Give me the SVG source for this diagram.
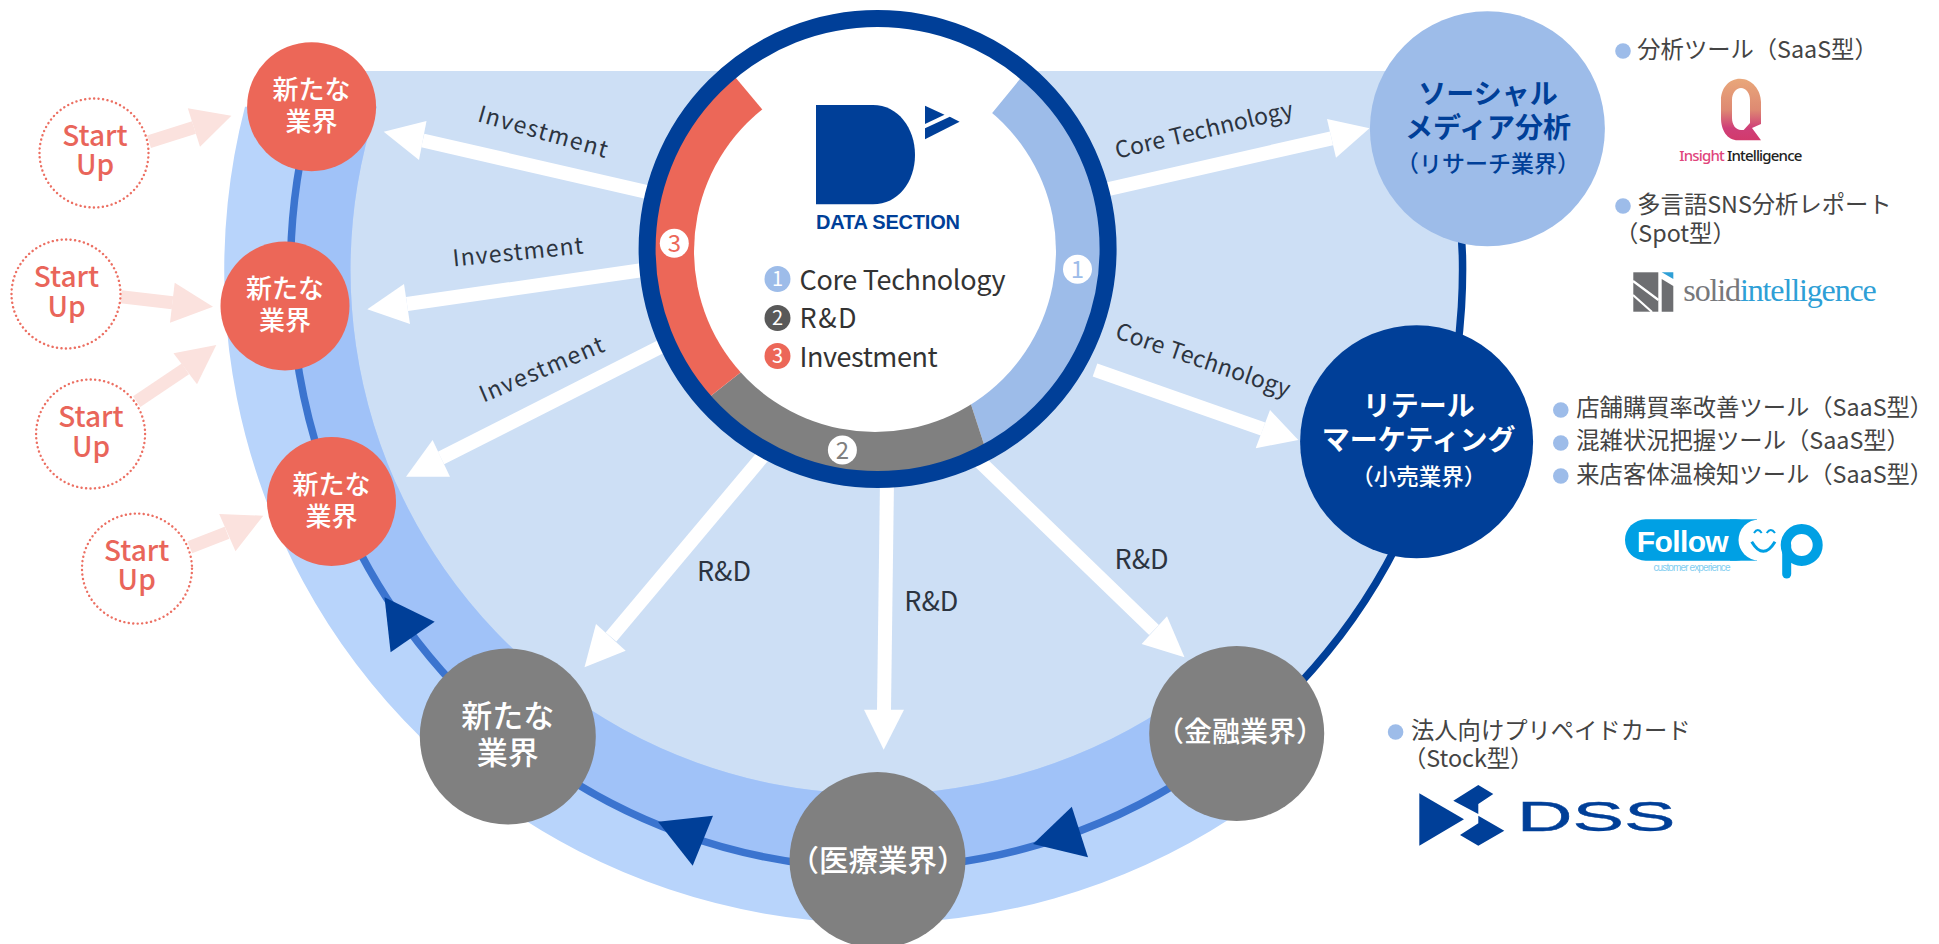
<svg xmlns="http://www.w3.org/2000/svg" width="1939" height="944" viewBox="0 0 1939 944">
<style>
text{font-family:"Noto Sans CJK JP","Noto Sans",sans-serif;text-anchor:middle}
.r{font-size:26px;fill:#fff;font-weight:500}
.g{font-size:31px;fill:#fff;font-weight:500}
.su{font-size:28px;fill:#e9655a;font-weight:500}
.sc{fill:#fff;stroke:#ec6f62;stroke-width:2.4;stroke-dasharray:.1 4.4;stroke-linecap:round}
.lab{font-size:23px;fill:#2c3440}
.rd{font-size:27px;fill:#2c3440}
.lg{font-size:27px;fill:#333;text-anchor:start}
.n{font-size:20px;fill:#fff}
.m{font-size:24px}
.t{font-size:23.3px;fill:#444;text-anchor:start}
.b{fill:#9dbce9}
.aw{stroke:#fff;stroke-width:14}
.ah{fill:#fff}
.pw{stroke:#fbe2de;stroke-width:13}
.ph{fill:#fbe2de}
</style>
<defs>
<clipPath id="segclip"><circle cx="877.6" cy="249" r="232"/></clipPath>
<linearGradient id="qg" x1="0" y1="0" x2="0" y2="1"><stop offset="0" stop-color="#e9a77a"/><stop offset=".5" stop-color="#de8a72"/><stop offset=".8" stop-color="#cf3f78"/><stop offset="1" stop-color="#d23a6c"/></linearGradient>
</defs>
<g id="background">
<path d="M323.9 71H1429A586 598 0 1 1 323.9 71Z" fill="#cddff5"/>
<path d="M245 106.7A652 653 0 0 0 1231.6 817.7L1163 709.5A526 524 0 0 1 376.7 106.7Z" fill="#b8d4fb"/>
<path d="M312.8 106.7A586 598 0 0 0 1195.7 771.5L1163 709.5A526 524 0 0 1 376.7 106.7Z" fill="#a0c2f8"/>
</g>
<g id="connectors" fill="none">
<path d="M312.8 106.7A586 598 0 0 0 1195.7 771.5" stroke="#3b74cf" stroke-width="7.5"/>
<path d="M1195.7 771.5A586 598 0 0 0 1446 128.8" stroke="#003f98" stroke-width="7.5"/>
<polygon points="384.5,597.3 434.7,621.7 390.6,652.3" fill="#003f98"/>
<polygon points="658,821.7 713,815.7 692.7,865.7" fill="#003f98"/>
<polygon points="1071.8,806.7 1088,857.3 1033,844" fill="#003f98"/>
<line class="aw" x1="660" y1="195" x2="422.8" y2="140.5"/><polygon class="ah" points="383.7,131.7 426.5,121 419,160"/>
<line class="aw" x1="650" y1="269" x2="407" y2="304"/><polygon class="ah" points="367.3,309.3 404,284 410,324"/>
<line class="aw" x1="670" y1="342" x2="441" y2="458"/><polygon class="ah" points="406,476.7 432.6,440 450,476.7"/>
<line class="aw" x1="768" y1="450" x2="611" y2="637"/><polygon class="ah" points="584.5,667.3 596,624 625.7,650.7"/>
<line class="aw" x1="887" y1="480" x2="884" y2="710"/><polygon class="ah" points="883.7,749.7 864,709.7 904,709.7"/>
<line class="aw" x1="975" y1="457" x2="1154" y2="630"/><polygon class="ah" points="1184.5,657.3 1167,616.3 1141.6,644"/>
<line class="aw" x1="1100" y1="191" x2="1331.5" y2="138.3"/><polygon class="ah" points="1369.5,128.3 1327,119 1336,157.7"/>
<line class="aw" x1="1095" y1="370" x2="1263" y2="429"/><polygon class="ah" points="1298.3,440 1270,410 1255.7,448.3"/>
<line class="pw" x1="149" y1="141.7" x2="194" y2="127.5"/><polygon class="ph" points="231.4,115.7 187.8,108.3 200,146.7"/>
<line class="pw" x1="121" y1="296.7" x2="172.5" y2="302.7"/><polygon class="ph" points="213,306.7 174.7,282.7 170,322.7"/>
<line class="pw" x1="136.7" y1="401.7" x2="185.4" y2="368.8"/><polygon class="ph" points="216.3,345 173.5,353.3 197,384.3"/>
<line class="pw" x1="189.8" y1="547.3" x2="227" y2="532.7"/><polygon class="ph" points="263.3,515.7 219.2,514 235.5,551.3"/>
</g>
<g id="connector-labels">
<text class="lab" textLength="134" transform="translate(543 131.7) rotate(16) translate(0 8)">Investment</text>
<text class="lab" textLength="131" transform="translate(518 252) rotate(-5.7) translate(0 8)">Investment</text>
<text class="lab" textLength="133" transform="translate(541.6 369.5) rotate(-23) translate(0 8)">Investment</text>
<text class="lab" textLength="182" transform="translate(1204 130) rotate(-13.3) translate(0 8)">Core Technology</text>
<text class="lab" textLength="183" transform="translate(1203 360) rotate(19) translate(0 8)">Core Technology</text>
<text class="rd" x="724" y="581">R&amp;D</text>
<text class="rd" x="931.4" y="610.5">R&amp;D</text>
<text class="rd" x="1141.6" y="568.5">R&amp;D</text>
</g>
<g id="hub">
<circle cx="877.6" cy="249" r="232" fill="#fff"/>
<g clip-path="url(#segclip)">
<polygon points="877.6,252.7 1038,57 1200,0 1200,475 994,475 917,239" fill="#9dbce9"/>
<polygon points="684,417 840,294 917,239 994,475 1000,520 684,520" fill="#808080"/>
<polygon points="715,53 840,202 840,294 684,417 600,417 600,53" fill="#ec6758"/>
</g>
<circle cx="875" cy="251" r="181" fill="#fff"/>
<circle cx="877.6" cy="249" r="230.5" fill="none" stroke="#003f98" stroke-width="17"/>
<circle cx="1077.5" cy="269.3" r="14.5" fill="#fff"/><text x="1077.5" y="277.8" class="n m" style="fill:#9dbce9">1</text>
<circle cx="842.4" cy="450" r="14.5" fill="#fff"/><text x="842.4" y="458.5" class="n m" style="fill:#808080">2</text>
<circle cx="674.3" cy="243.3" r="14.5" fill="#fff"/><text x="674.3" y="251.8" class="n m" style="fill:#ec6758">3</text>
<path d="M816 105H873C898 105 915 128 915 155C915 182 898 204.3 873 204.3H816Z" fill="#003f98"/>
<polygon points="925,105.7 925,124 944.5,114.7" fill="#003f98"/>
<polygon points="925,128.3 949.8,116.7 959.6,121.7 925,139.3" fill="#003f98"/>
<text x="888" y="229.3" textLength="144" style="font-family:'Liberation Sans',sans-serif;font-weight:700;font-size:20px;fill:#003f98">DATA SECTION</text>
<circle cx="777.5" cy="279" r="13" class="b"/><text x="777.5" y="286" class="n">1</text>
<circle cx="777.5" cy="318" r="13" fill="#595959"/><text x="777.5" y="325" class="n">2</text>
<circle cx="777.5" cy="356" r="13" fill="#ec6758"/><text x="777.5" y="363" class="n">3</text>
<text class="lg" x="799.6" y="289.5" textLength="206">Core Technology</text>
<text class="lg" x="799.6" y="328" textLength="57">R&amp;D</text>
<text class="lg" x="799.6" y="366.5" textLength="138">Investment</text>
</g>
<g id="node-new-1"><circle cx="311.6" cy="106.7" r="64.5" fill="#ec6758"/><text class="r" x="311.6" y="98.5">新たな</text><text class="r" x="311.6" y="130.5">業界</text></g>
<g id="node-new-2"><circle cx="285" cy="306" r="64.5" fill="#ec6758"/><text class="r" x="285" y="298">新たな</text><text class="r" x="285" y="330">業界</text></g>
<g id="node-new-3"><circle cx="331.5" cy="501.5" r="64.5" fill="#ec6758"/><text class="r" x="331.5" y="494">新たな</text><text class="r" x="331.5" y="525.5">業界</text></g>
<g id="node-new-4"><circle cx="507.8" cy="736.5" r="88" fill="#808080"/><text class="g" x="507.8" y="726.5">新たな</text><text class="g" x="507.8" y="763.5">業界</text></g>
<g id="node-medical"><circle cx="877.5" cy="860" r="88" fill="#808080"/><text class="g" x="878" y="870.5" style="font-size:29.5px">（医療業界）</text></g>
<g id="node-finance"><circle cx="1236.7" cy="733.5" r="87.5" fill="#808080"/><text class="g" x="1240" y="742" style="font-size:28px">（金融業界）</text></g>
<g id="node-social"><circle cx="1487.4" cy="128.8" r="117.5" fill="#9dbce9"/>
<text x="1488" y="103.5" style="font-size:28px;font-weight:700;fill:#003f98">ソーシャル</text>
<text x="1488" y="138" style="font-size:28px;font-weight:700;fill:#003f98">メディア分析</text>
<text x="1488" y="172" style="font-size:23px;font-weight:500;fill:#003f98">（リサーチ業界）</text></g>
<g id="node-retail"><circle cx="1416.6" cy="441.7" r="116.5" fill="#003f98"/>
<text x="1418.7" y="416" style="font-size:28px;font-weight:700;fill:#fff">リテール</text>
<text x="1418.7" y="450" style="font-size:28px;font-weight:700;fill:#fff">マーケティング</text>
<text x="1418.7" y="485" style="font-size:22.5px;font-weight:500;fill:#fff">（小売業界）</text></g>
<g id="startup-1"><circle class="sc" cx="94" cy="153" r="54.5"/><text class="su" x="95" y="145.7">Start</text><text class="su" x="95" y="175">Up</text></g>
<g id="startup-2"><circle class="sc" cx="66" cy="294" r="54.5"/><text class="su" x="66.5" y="287.3">Start</text><text class="su" x="66.5" y="316.7">Up</text></g>
<g id="startup-3"><circle class="sc" cx="90.6" cy="434" r="54.5"/><text class="su" x="91" y="426.7">Start</text><text class="su" x="91" y="456.7">Up</text></g>
<g id="startup-4"><circle class="sc" cx="137" cy="568.6" r="55"/><text class="su" x="136.7" y="560.7">Start</text><text class="su" x="136.7" y="590">Up</text></g>
<g id="notes">
<circle cx="1623" cy="51" r="7.8" class="b"/><text class="t" x="1637.3" y="57.5">分析ツール（SaaS型）</text>
<circle cx="1623" cy="206" r="7.8" class="b"/><text class="t" x="1637.3" y="212.5">多言語SNS分析レポート</text><text class="t" x="1615" y="241.5">（Spot型）</text>
<circle cx="1560.8" cy="410" r="7.8" class="b"/><text class="t" x="1576.3" y="415.5">店舗購買率改善ツール（SaaS型）</text>
<circle cx="1560.8" cy="443" r="7.8" class="b"/><text class="t" x="1576.3" y="449">混雑状況把握ツール（SaaS型）</text>
<circle cx="1560.8" cy="476" r="7.8" class="b"/><text class="t" x="1576.3" y="482.5">来店客体温検知ツール（SaaS型）</text>
<circle cx="1395.6" cy="732" r="7.8" class="b"/><text class="t" x="1411" y="739">法人向けプリペイドカード</text><text class="t" x="1403" y="767">（Stock型）</text>
</g>
<g id="logo-insight">
<path fill-rule="evenodd" fill="url(#qg)" d="M1740 78.7C1752 78.7 1761 90 1761 102V124L1752 128L1761 140.3H1738C1727 140.3 1721 130 1721 118V100C1721 88 1729 78.7 1740 78.7ZM1741 88C1736 88 1732 93 1732 100V118C1732 125 1736 130 1741 130H1743.7L1750 123V100C1750 93 1746 88 1741 88Z"/>
<text x="1679.3" y="161" textLength="123" style="text-anchor:start;font-family:'Noto Sans',sans-serif;font-size:15px;font-weight:500;fill:#222"><tspan fill="#e0457b">Insight</tspan> Intelligence</text>
</g>
<g id="logo-solid">
<rect x="1633.3" y="272.3" width="25" height="39.4" fill="#6d6e71"/>
<path d="M1633 281L1658.5 300M1633 295L1652 312" stroke="#fff" stroke-width="2.2"/>
<polygon points="1661.7,279 1673.3,286 1673.3,311.7 1661.7,311.7" fill="#6d6e71"/>
<polygon points="1661.7,272.3 1673.3,272.3 1673.3,279" fill="#2e9fd6"/>
<text x="1683.3" y="301" textLength="193.5" style="text-anchor:start;font-family:'Liberation Serif',serif;font-size:32px;fill:#2e9fd6"><tspan fill="#77787b">solid</tspan>intelligence</text>
</g>
<g id="logo-followup">
<rect x="1625" y="519.3" width="131.7" height="41.4" rx="20.7" fill="#00a0e4"/>
<rect x="1730" y="519.3" width="27" height="41.4" fill="#00a0e4"/>
<circle cx="1759" cy="540" r="20.5" fill="#fff"/>
<text x="1636.7" y="551.7" textLength="92" style="text-anchor:start;font-family:'Liberation Sans',sans-serif;font-size:30px;font-weight:700;fill:#fff">Follow</text>
<path d="M1751.7 541.7Q1763.3 561 1775 541.7" fill="none" stroke="#00a0e4" stroke-width="3"/>
<path d="M1754 533Q1757.8 527 1761.7 533M1766.7 533Q1770.8 527 1775 533" fill="none" stroke="#00a0e4" stroke-width="2"/>
<circle cx="1801.7" cy="545" r="16" fill="none" stroke="#00a0e4" stroke-width="10"/>
<line x1="1786.7" y1="545" x2="1786.7" y2="574" stroke="#00a0e4" stroke-width="9" stroke-linecap="round"/>
<text x="1692" y="570.5" textLength="77" style="font-family:'Liberation Sans',sans-serif;font-size:10px;fill:#7fcdf0">customer experience</text>
</g>
<g id="logo-dss">
<polygon points="1419.3,793.3 1419.3,845.7 1464,819.3" fill="#003f98"/>
<polygon points="1453.3,800.7 1478.3,785 1493.3,794 1478.3,804 1478.3,814" fill="#003f98"/>
<polygon points="1478.3,815.7 1504.3,830.7 1478.3,845.7 1460,835 1478.3,823.3" fill="#003f98"/>
<text transform="translate(1516.7 830.5) scale(1.84 1)" style="text-anchor:start;font-family:'Liberation Sans',sans-serif;font-size:42px;fill:#003f98;stroke:#003f98;stroke-width:.4">DSS</text>
</g>
</svg>
